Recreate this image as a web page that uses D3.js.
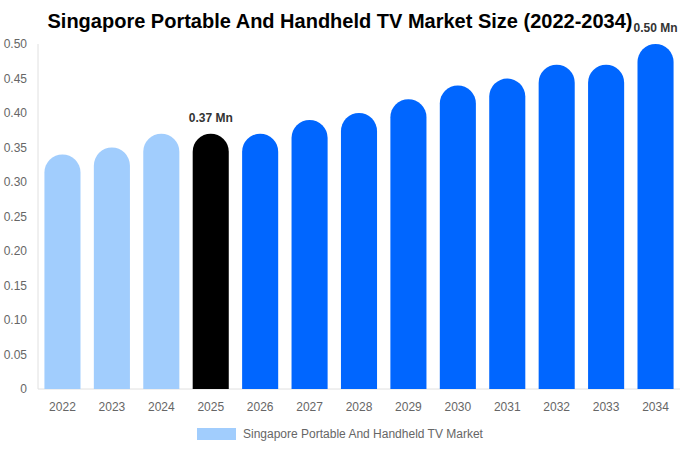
<!DOCTYPE html>
<html>
<head>
<meta charset="utf-8">
<script src="https://cdn.jsdelivr.net/npm/d3@7.9.0/dist/d3.min.js"></script>
<style>
  body { margin: 0; background: #fff; }
  svg { font-family: "Liberation Sans", Arial, sans-serif; }
</style>
</head>
<body>
<svg width="680" height="450"></svg>
<script>
const years = ['2022','2023','2024','2025','2026','2027','2028','2029','2030','2031','2032','2033','2034'];
const values = [0.34, 0.35, 0.37, 0.37, 0.37, 0.39, 0.40, 0.42, 0.44, 0.45, 0.47, 0.47, 0.50];
const yTicks = [0, 0.05, 0.10, 0.15, 0.20, 0.25, 0.30, 0.35, 0.40, 0.45, 0.50];
const labelled = { '2025': '0.37 Mn', '2034': '0.50 Mn' };

const svg = d3.select('svg');
const margin = { top: 44, right: 0, bottom: 61, left: 38 };
const width = 680 - margin.left - margin.right;
const height = 450 - margin.top - margin.bottom;

let x = d3.scaleBand().domain(years).range([margin.left, margin.left + width]).paddingInner(0.27).paddingOuter(0.13);
let y = d3.scaleLinear().domain([0, 0.5]).range([margin.top + height, margin.top]);

function barColor(year) {
  if (+year < 2025) return '#a1cdfd';
  if (+year === 2025) return '#000000';
  return '#0066ff';
}

// title
svg.append('text')
  .attr('x', 340).attr('y', 28)
  .attr('text-anchor', 'middle')
  .attr('font-size', 20).attr('font-weight', 'bold')
  .attr('fill', '#000')
  .text('Singapore Portable And Handheld TV Market Size (2022-2034)');

// axes lines
svg.append('line')
  .attr('x1', margin.left).attr('x2', margin.left)
  .attr('y1', margin.top).attr('y2', margin.top + height)
  .attr('stroke', '#e0e0e0');
svg.append('line')
  .attr('x1', margin.left).attr('x2', margin.left + width)
  .attr('y1', margin.top + height).attr('y2', margin.top + height)
  .attr('stroke', '#e0e0e0');

// y tick labels
svg.selectAll('.ytick').data(yTicks).enter().append('text')
  .attr('x', 27).attr('y', d => y(d) + 4)
  .attr('text-anchor', 'end')
  .attr('font-size', 12).attr('fill', '#666')
  .text(d => d === 0 ? '0' : d3.format('.2f')(d));

// x tick labels
svg.selectAll('.xtick').data(years).enter().append('text')
  .attr('x', d => x(d) + x.bandwidth() / 2).attr('y', margin.top + height + 22)
  .attr('text-anchor', 'middle')
  .attr('font-size', 12).attr('fill', '#666')
  .text(d => d);

// bars with rounded tops
function barPath(year, v) {
  let bx = x(year), w = x.bandwidth(), r = w / 2;
  let top = y(v), base = y(0);
  return `M${bx},${base} V${top + r} A${r},${r} 0 0 1 ${bx + w},${top + r} V${base} Z`;
}

svg.selectAll('.bar').data(years).enter().append('path')
  .attr('d', (d, i) => barPath(d, values[i]))
  .attr('fill', d => barColor(d));

// value labels
years.forEach((yr, i) => {
  if (!labelled[yr]) return;
  svg.append('text')
    .attr('x', x(yr) + x.bandwidth() / 2)
    .attr('y', y(values[i]) - 12)
    .attr('text-anchor', 'middle')
    .attr('font-size', 12).attr('font-weight', 'bold')
    .attr('fill', '#333')
    .text(labelled[yr]);
});

// legend
svg.append('rect')
  .attr('x', 197).attr('y', 428).attr('width', 39).attr('height', 12)
  .attr('fill', '#a1cdfd');
svg.append('text')
  .attr('x', 243).attr('y', 438)
  .attr('font-size', 12).attr('fill', '#666')
  .text('Singapore Portable And Handheld TV Market');
</script>
</body>
</html>
